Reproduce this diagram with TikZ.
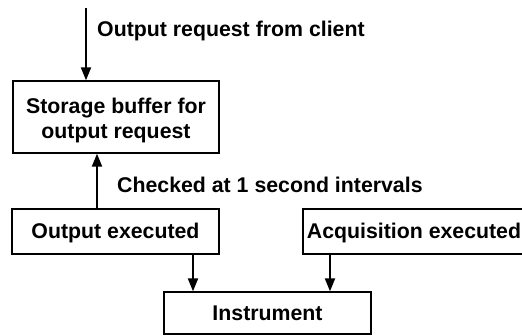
\documentclass[tikz,border=0pt]{standalone}
\usepackage{fontspec}
\setmainfont{Liberation Sans}
\usetikzlibrary{arrows.meta}
\begin{document}
\begin{tikzpicture}[x=1pt,y=-1pt,
  every node/.style={font=\fontsize{21.3}{25}\selectfont\bfseries},
  box/.style={draw=black,line width=1.3pt,inner sep=0pt,text height=15pt,text depth=0pt},
  arr/.style={line width=2pt,-{Triangle[length=13pt,width=10pt]}},
  lbl/.style={inner sep=0pt,anchor=base west}]
\useasboundingbox (0,0) rectangle (522,336);
\node[box,minimum width=206pt,minimum height=72pt,align=center,text height=,text depth=] (storage) at (116,117) {\rule{0pt}{22pt}Storage buffer for\\output request};
\node[box,minimum width=207pt,minimum height=45pt] (outexec) at (115.5,231.5) {Output executed};
\node[box,minimum width=222pt,minimum height=45pt] (acq) at (414,231.5) {Acquisition executed};
\node[box,minimum width=207pt,minimum height=42pt] (instr) at (267.5,313) {Instrument};
\coordinate (src) at (86,8);
\draw[arr] (src) -- (src |- storage.north);
\node[lbl] (lreq) at (97,37) {Output request from client};
\draw[arr] ([xshift=-18.5pt]outexec.north) -- ([xshift=-18.5pt]outexec.north |- storage.south);
\node[lbl] (lchk) at (117,193) {Checked at 1 second intervals};
\draw[arr] ([xshift=77.5pt]outexec.south) -- ([xshift=77.5pt]outexec.south |- instr.north);
\draw[arr] ([xshift=-84pt]acq.south) -- ([xshift=-84pt]acq.south |- instr.north);
\end{tikzpicture}
\end{document}
